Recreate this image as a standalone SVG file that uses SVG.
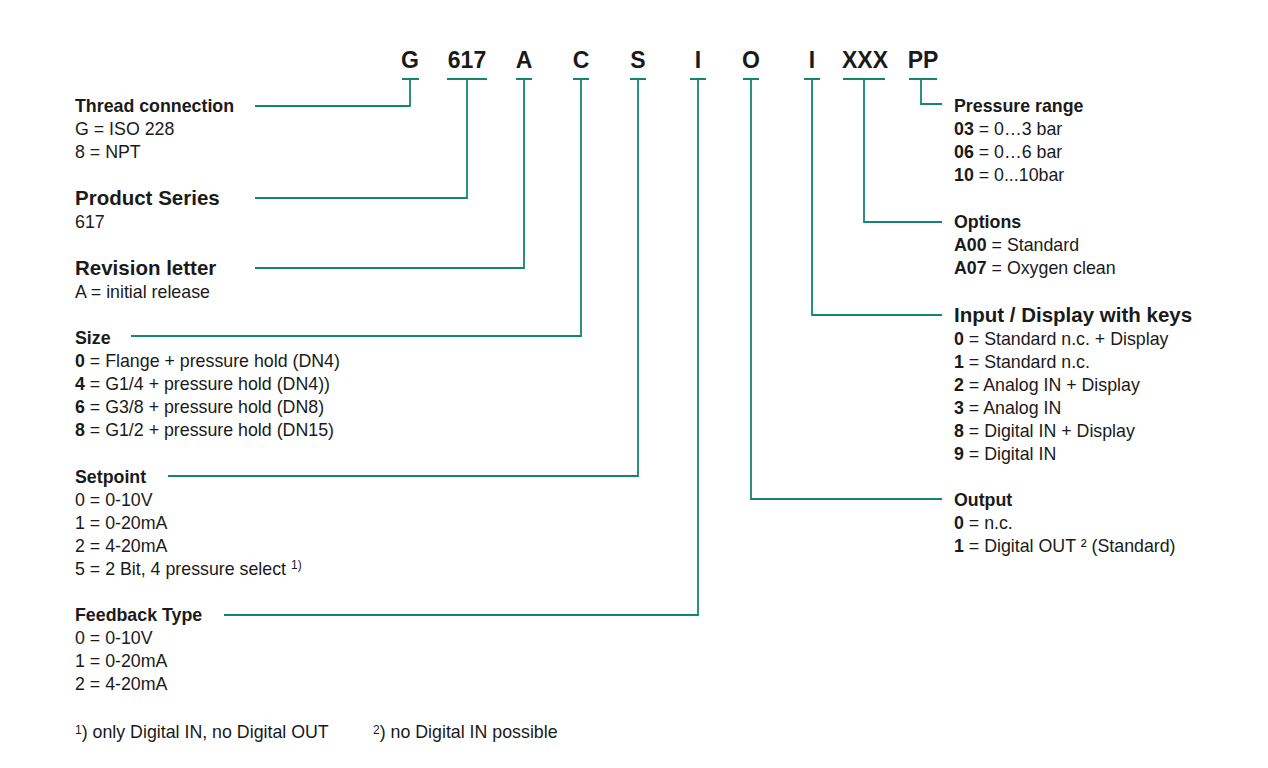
<svg xmlns="http://www.w3.org/2000/svg" width="1268" height="768" viewBox="0 0 1268 768">
<style>
text{font-family:"Liberation Sans",Arial,sans-serif;fill:#1a1a1a;font-size:17.8px}
.code{font-size:23px;font-weight:bold;text-anchor:middle}
.h{font-weight:bold;font-size:17.8px}
.H{font-weight:bold;font-size:20.5px}
.b{font-weight:bold}
.sup{font-size:12px}
.ln{fill:none;stroke:#13876a;stroke-width:1.8}
</style>
<rect width="1268" height="768" fill="#fff"/>
<g id="code">
<text class="code" x="410" y="68">G</text>
<text class="code" x="467" y="68">617</text>
<text class="code" x="524" y="68">A</text>
<text class="code" x="581" y="68">C</text>
<text class="code" x="638" y="68">S</text>
<text class="code" x="698" y="68">I</text>
<text class="code" x="751" y="68">O</text>
<text class="code" x="812" y="68">I</text>
<text class="code" x="865" y="68">XXX</text>
<text class="code" x="923" y="68">PP</text>
</g>
<g id="connectors" class="ln">
<path d="M402 79H419M410 79V106H255"/>
<path d="M447 79H487M467 79V198H255"/>
<path d="M516 79H532M524 79V268H255"/>
<path d="M573 79H589M581 79V336H131"/>
<path d="M630 79H646M638 79V476H168"/>
<path d="M690 79H706M698 79V615H224"/>
<path d="M743 79H759M751 79V499H942"/>
<path d="M804 79H820M812 79V315H942"/>
<path d="M843 79H885M864 79V222H942"/>
<path d="M909 79H937M921 79V104H942"/>
</g>
<g id="thread"><text class="h" x="75" y="112">Thread connection</text><text x="75" y="135">G = ISO 228</text><text x="75" y="158">8 = NPT</text></g>
<g id="series"><text class="H" x="75" y="205">Product Series</text><text x="75" y="228">617</text></g>
<g id="revision"><text class="H" x="75" y="275">Revision letter</text><text x="75" y="298">A = initial release</text></g>
<g id="size"><text class="h" x="75" y="344">Size</text>
<text x="75" y="367"><tspan class="b">0</tspan> = Flange + pressure hold (DN4)</text>
<text x="75" y="390"><tspan class="b">4</tspan> = G1/4 + pressure hold (DN4))</text>
<text x="75" y="413"><tspan class="b">6</tspan> = G3/8 + pressure hold (DN8)</text>
<text x="75" y="436"><tspan class="b">8</tspan> = G1/2 + pressure hold (DN15)</text></g>
<g id="setpoint"><text class="h" x="75" y="483">Setpoint</text>
<text x="75" y="506">0 = 0-10V</text><text x="75" y="529">1 = 0-20mA</text><text x="75" y="552">2 = 4-20mA</text>
<text x="75" y="575">5 = 2 Bit, 4 pressure select <tspan class="sup" dy="-6">1)</tspan></text></g>
<g id="feedback"><text class="h" x="75" y="621">Feedback Type</text>
<text x="75" y="644">0 = 0-10V</text><text x="75" y="667">1 = 0-20mA</text><text x="75" y="690">2 = 4-20mA</text></g>
<g id="notes"><text x="75" y="738"><tspan class="sup" dy="-4">1</tspan><tspan dy="4">) only Digital IN, no Digital OUT</tspan></text>
<text x="373" y="738"><tspan class="sup" dy="-4">2</tspan><tspan dy="4">) no Digital IN possible</tspan></text></g>
<g id="pressure"><text class="h" x="954" y="112">Pressure range</text>
<text x="954" y="135"><tspan class="b">03</tspan> = 0…3 bar</text>
<text x="954" y="158"><tspan class="b">06</tspan> = 0…6 bar</text>
<text x="954" y="181"><tspan class="b">10</tspan> = 0...10bar</text></g>
<g id="options"><text class="h" x="954" y="228">Options</text>
<text x="954" y="251"><tspan class="b">A00</tspan> = Standard</text>
<text x="954" y="274"><tspan class="b">A07</tspan> = Oxygen clean</text></g>
<g id="input"><text class="H" x="954" y="322">Input / Display with keys</text>
<text x="954" y="345"><tspan class="b">0</tspan> = Standard n.c. + Display</text>
<text x="954" y="368"><tspan class="b">1</tspan> = Standard n.c.</text>
<text x="954" y="391"><tspan class="b">2</tspan> = Analog IN + Display</text>
<text x="954" y="414"><tspan class="b">3</tspan> = Analog IN</text>
<text x="954" y="437"><tspan class="b">8</tspan> = Digital IN + Display</text>
<text x="954" y="460"><tspan class="b">9</tspan> = Digital IN</text></g>
<g id="output"><text class="h" x="954" y="506">Output</text>
<text x="954" y="529"><tspan class="b">0</tspan> = n.c.</text>
<text x="954" y="552"><tspan class="b">1</tspan> = Digital OUT ² (Standard)</text></g>
</svg>
